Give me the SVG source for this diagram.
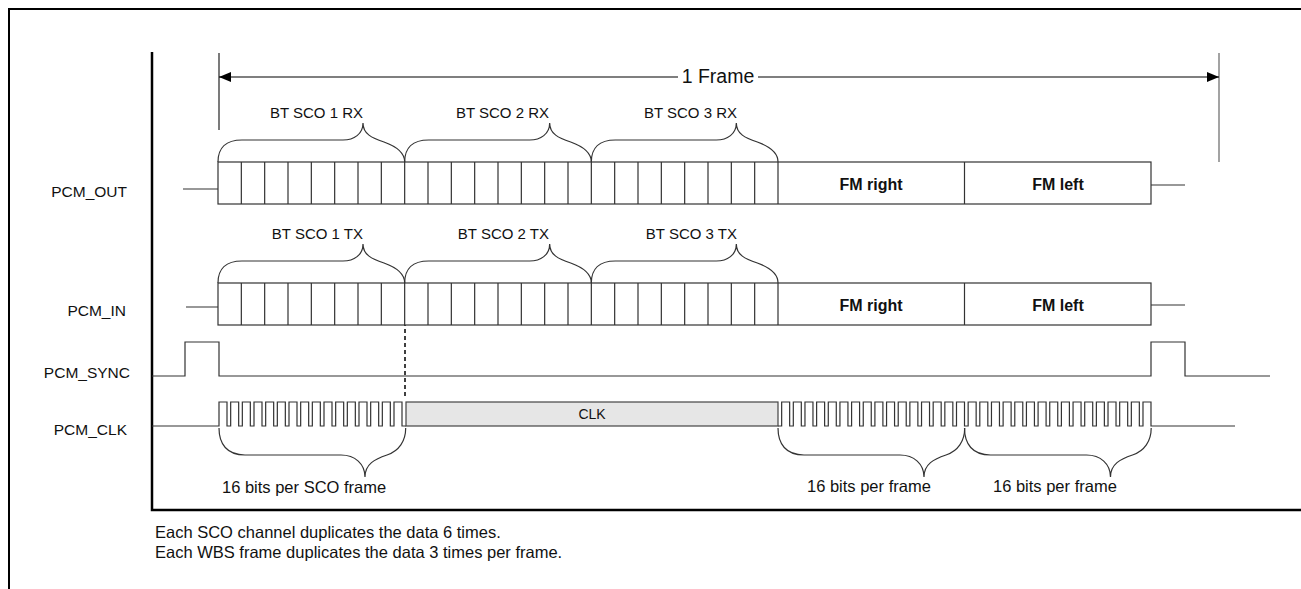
<svg xmlns="http://www.w3.org/2000/svg" xmlns:xlink="http://www.w3.org/1999/xlink" width="1301" height="589" viewBox="0 0 1301 589">
<style>
  .ln{fill:none;stroke:#333;stroke-width:1.2}
  .cell{fill:#fff;stroke:#333;stroke-width:1.2}
  .ax{fill:none;stroke:#000;stroke-width:2.5}
  .t{font-family:"Liberation Sans",Arial,sans-serif;fill:#111}
  .lbl{font-size:15.5px;text-anchor:end}
  .bt{font-size:15px;text-anchor:end}
  .fm{font-size:16px;font-weight:bold;text-anchor:middle}
  .note{font-size:16.5px}
</style>
<defs>
  <marker id="ah" markerWidth="13" markerHeight="11" refX="12" refY="5" orient="auto-start-reverse" markerUnits="userSpaceOnUse">
    <path d="M0,0 L12,5 L0,10 z" fill="#000"/>
  </marker>
  <path id="braceUp" class="ln" d="M0,0 C0,-14 8,-22 24,-22 L125,-22 C136,-22 145,-28 145,-39 C145,-28 154,-24 166,-20 C180,-15 186.7,-8 186.7,0"/>
  <path id="braceDown" class="ln" d="M0,0 C0,16 8,27 26,27 L122,27 C136,27 146,36 146,49 C146,36 156,31 168,27 C180,23 186.7,13 186.7,0"/>
  <g id="cells">
    <rect class="cell" x="218" y="0" width="933" height="42"/>
    <path class="ln" d="M241.33,0V42M264.67,0V42M288,0V42M311.33,0V42M334.67,0V42M358,0V42M381.33,0V42M404.67,0V42M428,0V42M451.33,0V42M474.67,0V42M498,0V42M521.33,0V42M544.67,0V42M568,0V42M591.33,0V42M614.67,0V42M638,0V42M661.33,0V42M684.67,0V42M708,0V42M731.33,0V42M754.67,0V42M778,0V42M964.5,0V42"/>
  </g>
</defs>

<g id="frame-border">
  <path d="M9,589 V9 H1301" fill="none" stroke="#000" stroke-width="2"/>
  <path class="ax" d="M152,52 V510 H1301"/>
</g>

<g id="frame-span">
  <path d="M219,53 V130" fill="none" stroke="#222" stroke-width="1.2"/>
  <path d="M1219,53 V162" fill="none" stroke="#666" stroke-width="1.2"/>
  <text class="t" x="718" y="83" font-size="19.5" text-anchor="middle">1 Frame</text>
</g>

<g id="connectors">
  <path d="M219,77 H678" fill="none" stroke="#000" stroke-width="1.2" marker-start="url(#ah)"/>
  <path d="M758,77 H1219" fill="none" stroke="#000" stroke-width="1.2" marker-end="url(#ah)"/>
  <path d="M405,322 V396" fill="none" stroke="#000" stroke-width="1.5" stroke-dasharray="4,3"/>
</g>

<g id="pcm-out">
  <text class="t lbl" x="127" y="197">PCM_OUT</text>
  <path class="ln" d="M183,189 H218 M1151,185 H1185"/>
  <use xlink:href="#cells" href="#cells" y="162"/>
  <text class="t fm" x="871" y="190">FM right</text>
  <text class="t fm" x="1058" y="190">FM left</text>
  <use xlink:href="#braceUp" href="#braceUp" x="218" y="162"/>
  <use xlink:href="#braceUp" href="#braceUp" x="404.67" y="162"/>
  <use xlink:href="#braceUp" href="#braceUp" x="591.33" y="162"/>
  <text class="t bt" x="363" y="118">BT SCO 1 RX</text>
  <text class="t bt" x="549" y="118">BT SCO 2 RX</text>
  <text class="t bt" x="737" y="118">BT SCO 3 RX</text>
</g>

<g id="pcm-in">
  <text class="t lbl" x="126" y="316">PCM_IN</text>
  <path class="ln" d="M186,307 H218 M1151,305 H1185"/>
  <use xlink:href="#cells" href="#cells" y="283"/>
  <text class="t fm" x="871" y="311">FM right</text>
  <text class="t fm" x="1058" y="311">FM left</text>
  <use xlink:href="#braceUp" href="#braceUp" x="218" y="283"/>
  <use xlink:href="#braceUp" href="#braceUp" x="404.67" y="283"/>
  <use xlink:href="#braceUp" href="#braceUp" x="591.33" y="283"/>
  <text class="t bt" x="363" y="239">BT SCO 1 TX</text>
  <text class="t bt" x="549" y="239">BT SCO 2 TX</text>
  <text class="t bt" x="737" y="239">BT SCO 3 TX</text>
</g>

<g id="pcm-sync">
  <text class="t lbl" x="130" y="378">PCM_SYNC</text>
  <path class="ln" d="M152,376 H185 V342 H219 V376 H1151 V342 H1185 V376 H1270"/>
</g>

<g id="pcm-clk">
  <text class="t lbl" x="127" y="435">PCM_CLK</text>
  <path class="ln" d="M152,426 H219 V402 H227 V426 H230.67 V402 H238.67 V426 H242.33 V402 H250.33 V426 H254 V402 H262 V426 H265.67 V402 H273.67 V426 H277.33 V402 H285.33 V426 H289 V402 H297 V426 H300.67 V402 H308.67 V426 H312.33 V402 H320.33 V426 H324 V402 H332 V426 H335.67 V402 H343.67 V426 H347.33 V402 H355.33 V426 H359 V402 H367 V426 H370.67 V402 H378.67 V426 H382.33 V402 H390.33 V426 H394 V402 H402 V426 H406"/>
  <rect x="406" y="402" width="372" height="24" fill="#e6e6e6" stroke="#444" stroke-width="1.2"/>
  <text class="t" x="592" y="419" font-size="14" text-anchor="middle">CLK</text>
  <path class="ln" d="M778,426 H781.66 V402 H789.66 V426 H793.31 V402 H801.31 V426 H804.97 V402 H812.97 V426 H816.62 V402 H824.62 V426 H828.28 V402 H836.28 V426 H839.94 V402 H847.94 V426 H851.59 V402 H859.59 V426 H863.25 V402 H871.25 V426 H874.9 V402 H882.9 V426 H886.56 V402 H894.56 V426 H898.22 V402 H906.22 V426 H909.87 V402 H917.87 V426 H921.53 V402 H929.53 V426 H933.18 V402 H941.18 V426 H944.84 V402 H952.84 V426 H956.5 V402 H964.5 V426 H968.15 V402 H976.15 V426 H979.81 V402 H987.81 V426 H991.46 V402 H999.46 V426 H1003.12 V402 H1011.12 V426 H1014.78 V402 H1022.78 V426 H1026.43 V402 H1034.43 V426 H1038.09 V402 H1046.09 V426 H1049.74 V402 H1057.74 V426 H1061.4 V402 H1069.4 V426 H1073.06 V402 H1081.06 V426 H1084.71 V402 H1092.71 V426 H1096.37 V402 H1104.37 V426 H1108.02 V402 H1116.02 V426 H1119.68 V402 H1127.68 V426 H1131.34 V402 H1139.34 V426 H1142.99 V402 H1150.99 V426 H1235"/>
  <use xlink:href="#braceDown" href="#braceDown" x="219" y="428"/>
  <use xlink:href="#braceDown" href="#braceDown" x="778" y="428"/>
  <use xlink:href="#braceDown" href="#braceDown" x="964.5" y="428"/>
  <text class="t note" x="222" y="493">16 bits per SCO frame</text>
  <text class="t note" x="807" y="492">16 bits per frame</text>
  <text class="t note" x="993" y="492">16 bits per frame</text>
</g>

<g id="notes">
  <text class="t note" x="155" y="538">Each SCO channel duplicates the data 6 times.</text>
  <text class="t note" x="155" y="558">Each WBS frame duplicates the data 3 times per frame.</text>
</g>
</svg>
